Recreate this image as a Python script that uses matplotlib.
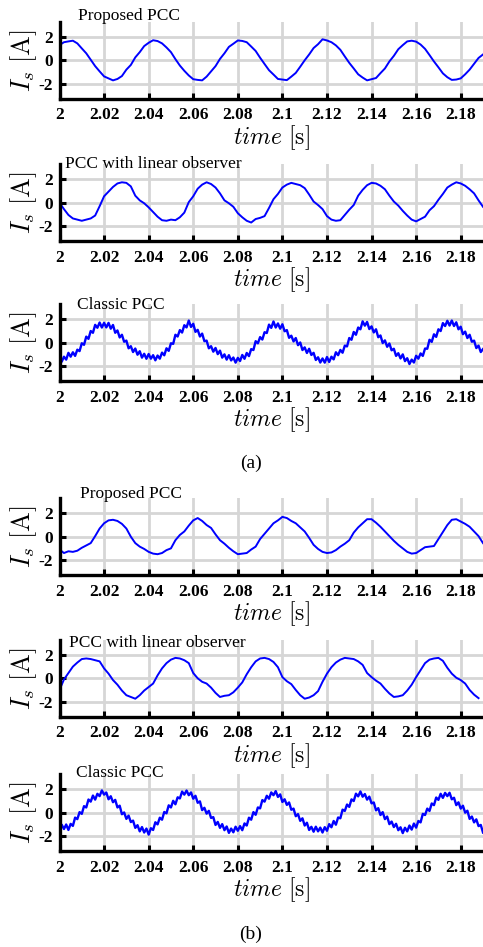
import numpy as np
import matplotlib
matplotlib.use('Agg')
import matplotlib.pyplot as plt

plt.rcParams['font.family'] = ['Liberation Serif', 'DejaVu Serif']
plt.rcParams['mathtext.fontset'] = 'cm'
plt.rcParams['axes.unicode_minus'] = False

# sampled current traces (A); smooth ones every 2 ms, classic ones every 1 ms
a_proposed = [1.30, 1.55, 1.62, 1.68, 1.45, 1.02, 0.60, 0.05, -0.50, -0.95, -1.38, -1.55, -1.72, -1.60, -1.35, -0.80,
              -0.40, 0.25, 0.70, 1.22, 1.50, 1.72, 1.65, 1.45, 1.10, 0.70, 0.10, -0.45, -0.90, -1.30, -1.62, -1.68,
              -1.72, -1.40, -0.95, -0.50, 0.12, 0.60, 1.15, 1.42, 1.70, 1.66, 1.55, 1.18, 0.80, 0.22, -0.32, -0.85,
              -1.22, -1.60, -1.65, -1.70, -1.40, -1.08, -0.55, 0.00, 0.50, 1.05, 1.38, 1.80, 1.70, 1.55, 1.28, 0.90,
              0.33, -0.22, -0.70, -1.20, -1.48, -1.72, -1.62, -1.52, -1.10, -0.70, -0.10, 0.38, 0.95, 1.30, 1.62, 1.68,
              1.60, 1.35, 0.98, 0.45, -0.10, -0.60, -1.12, -1.45, -1.68, -1.65, -1.55, -1.20, -0.80, -0.30, 0.20, 0.50]

a_linear = [0.00, -0.55, -1.05, -1.35, -1.45, -1.55, -1.45, -1.35, -1.10, -0.30, 0.55, 0.95, 1.35, 1.65, 1.75, 1.70,
            1.40, 0.60, 0.20, -0.05, -0.40, -0.80, -1.20, -1.50, -1.55, -1.45, -1.50, -1.25, -0.85, 0.05, 0.55, 1.20,
            1.55, 1.75, 1.60, 1.30, 0.80, 0.20, -0.05, -0.35, -0.90, -1.25, -1.55, -1.70, -1.40, -1.30, -1.15, -0.45,
            0.30, 0.75, 1.30, 1.55, 1.70, 1.60, 1.50, 1.25, 0.70, 0.10, -0.20, -0.55, -1.15, -1.45, -1.55, -1.50,
            -1.05, -0.60, -0.20, 0.60, 1.10, 1.50, 1.70, 1.65, 1.45, 1.15, 0.60, 0.10, -0.25, -0.70, -1.10, -1.45,
            -1.60, -1.40, -1.20, -0.65, -0.30, 0.25, 0.75, 1.30, 1.55, 1.75, 1.65, 1.45, 1.15, 0.80, 0.20, -0.35]

a_classic = [-1.18, -1.63, -1.20, -1.45, -0.87, -1.20, -0.82, -1.13, -0.60, -0.72, -0.05, -0.18, 0.52, 0.33, 1.00, 0.85,
             1.53, 1.28, 1.73, 1.30, 1.70, 1.31, 1.70, 1.20, 1.52, 0.85, 1.05, 0.45, 0.68, 0.08, 0.18, -0.48,
             -0.30, -0.80, -0.50, -1.03, -0.73, -1.28, -0.95, -1.38, -0.97, -1.37, -1.07, -1.51, -1.10, -1.37, -0.85, -1.08,
             -0.48, -0.70, -0.05, -0.10, 0.68, 0.53, 1.08, 0.87, 1.50, 1.31, 1.90, 1.35, 1.62, 0.93, 1.10, 0.53,
             0.78, 0.13, 0.18, -0.48, -0.30, -0.77, -0.45, -0.98, -0.68, -1.28, -1.00, -1.45, -1.07, -1.52, -1.27, -1.71,
             -1.30, -1.57, -1.05, -1.38, -0.88, -1.15, -0.55, -0.63, 0.13, -0.05, 0.48, 0.27, 0.90, 0.83, 1.55, 1.27,
             1.82, 1.30, 1.65, 1.20, 1.58, 0.98, 1.08, 0.42, 0.60, 0.11, 0.40, -0.21, 0.02, -0.63, -0.40, -0.88,
             -0.52, -1.05, -0.87, -1.48, -1.25, -1.70, -1.35, -1.71, -1.23, -1.65, -1.20, -1.43, -0.82, -1.07, -0.62, -0.86,
             -0.25, -0.32, 0.40, 0.25, 0.92, 0.68, 1.30, 1.15, 1.83, 1.46, 1.78, 1.17, 1.40, 0.88, 1.15, 0.47,
             0.62, -0.03, 0.20, -0.35, -0.07, -0.65, -0.52, -1.13, -0.90, -1.35, -1.00, -1.58, -1.33, -1.83, -1.45, -1.70,
             -1.12, -1.37, -0.92, -1.13, -0.50, -0.52, 0.25, 0.07, 0.72, 0.50, 1.15, 1.00, 1.68, 1.43, 1.88, 1.47,
             1.90, 1.43, 1.75, 1.15, 1.37, 0.73, 0.95, 0.40, 0.68, 0.08, 0.18, -0.46, -0.25, -0.80, -0.55]

b_proposed = [-1.10, -1.40, -1.25, -1.30, -1.20, -0.95, -0.75, -0.55, 0.05, 0.70, 1.15, 1.40, 1.45, 1.35, 1.10, 0.70,
              0.00, -0.55, -0.85, -1.05, -1.30, -1.45, -1.50, -1.40, -1.15, -1.00, -0.30, 0.15, 0.45, 0.95, 1.40, 1.60,
              1.35, 1.00, 0.75, 0.20, -0.30, -0.60, -0.95, -1.25, -1.50, -1.45, -1.40, -1.10, -0.85, -0.20, 0.25, 0.70,
              1.15, 1.40, 1.70, 1.60, 1.35, 1.15, 0.80, 0.45, -0.10, -0.70, -1.05, -1.30, -1.40, -1.35, -1.15, -0.85,
              -0.60, -0.30, 0.35, 0.80, 1.15, 1.50, 1.50, 1.20, 0.85, 0.45, 0.05, -0.35, -0.70, -1.00, -1.30, -1.45,
              -1.40, -1.15, -0.90, -0.85, -0.80, -0.20, 0.40, 1.00, 1.45, 1.50, 1.30, 1.10, 0.85, 0.45, 0.05, -0.55]

b_linear = [-1.00, -0.10, 0.45, 1.00, 1.35, 1.65, 1.70, 1.65, 1.55, 1.45, 0.85, 0.40, -0.15, -0.55, -1.05, -1.45,
            -1.60, -1.75, -1.45, -1.05, -0.75, -0.45, 0.25, 0.85, 1.30, 1.60, 1.75, 1.70, 1.55, 1.30, 0.45, 0.00,
            -0.30, -0.45, -0.80, -1.25, -1.60, -1.50, -1.45, -1.20, -0.80, -0.35, 0.35, 0.95, 1.45, 1.70, 1.75, 1.65,
            1.40, 0.95, 0.10, -0.25, -0.50, -1.00, -1.45, -1.75, -1.65, -1.45, -1.10, -0.30, 0.40, 0.95, 1.35, 1.60,
            1.75, 1.70, 1.65, 1.45, 1.15, 0.45, 0.10, -0.20, -0.45, -0.90, -1.30, -1.60, -1.55, -1.45, -1.05, -0.55,
            0.10, 0.70, 1.30, 1.60, 1.70, 1.75, 1.50, 0.90, 0.40, 0.05, -0.15, -0.45, -1.00, -1.40, -1.70]

b_classic = [-1.50, -1.03, -1.40, -1.01, -1.48, -0.96, -1.13, -0.42, -0.55, 0.05, -0.10, 0.56, 0.45, 1.13, 0.95, 1.47,
             1.12, 1.62, 1.42, 1.91, 1.55, 1.73, 1.15, 1.41, 0.90, 1.10, 0.45, 0.60, -0.13, 0.02, -0.53, -0.25,
             -0.80, -0.68, -1.30, -1.07, -1.60, -1.23, -1.70, -1.36, -1.88, -1.33, -1.48, -0.82, -1.00, -0.43, -0.60, 0.06,
             -0.05, 0.63, 0.45, 1.02, 0.72, 1.32, 1.22, 1.81, 1.55, 1.90, 1.50, 1.74, 1.20, 1.45, 0.85, 0.97,
             0.22, 0.42, -0.08, 0.16, -0.45, -0.38, -1.05, -0.79, -1.30, -0.98, -1.50, -1.18, -1.73, -1.36, -1.68, -1.20,
             -1.55, -1.15, -1.50, -0.92, -1.10, -0.43, -0.60, 0.05, -0.18, 0.45, 0.37, 1.08, 0.95, 1.45, 1.20, 1.74,
             1.50, 1.85, 1.35, 1.57, 0.92, 1.15, 0.67, 0.88, 0.25, 0.35, -0.30, -0.12, -0.70, -0.48, -1.10, -0.86,
             -1.48, -1.21, -1.63, -1.20, -1.60, -1.28, -1.70, -1.24, -1.55, -0.98, -1.25, -0.71, -1.03, -0.41, -0.48, 0.26,
             0.15, 0.70, 0.50, 1.14, 1.00, 1.63, 1.40, 1.82, 1.37, 1.60, 1.12, 1.38, 0.80, 0.88, 0.20, 0.39,
             -0.20, 0.05, -0.55, -0.33, -0.98, -0.76, -1.23, -0.95, -1.50, -1.25, -1.75, -1.29, -1.60, -1.10, -1.45, -0.93,
             -1.28, -0.71, -0.83, -0.10, -0.20, 0.35, 0.15, 0.79, 0.65, 1.30, 1.10, 1.62, 1.27, 1.70, 1.42, 1.71,
             1.15, 1.28, 0.65, 0.89, 0.35, 0.60, 0.00, 0.17, -0.53, -0.33, -0.83, -0.57, -1.15, -1.05, -1.70]

titles = ['Proposed PCC', 'PCC with linear observer', 'Classic PCC',
          'Proposed PCC', 'PCC with linear observer', 'Classic PCC']
xticks = [2, 2.02, 2.04, 2.06, 2.08, 2.1, 2.12, 2.14, 2.16, 2.18]
xtick_labels = ['2', '2.02', '2.04', '2.06', '2.08', '2.1', '2.12', '2.14', '2.16', '2.18']
yticks = [-2, 0, 2]

W, H = 483, 947
fig = plt.figure(figsize=(W / 100, H / 100), dpi=100)

series = [(a_proposed, 0.002), (a_linear, 0.002), (a_classic, 0.001),
          (b_proposed, 0.002), (b_linear, 0.002), (b_classic, 0.001)]
zero_px = [60.3, 202.7, 342.7, 536.7, 678.3, 812.7]   # pixel row of I=0 in each panel
title_px = [(78, 16), (65, 164), (77, 305), (80, 494), (69, 643), (76, 773)]
half = 38.5
left = 59.5

for (y, dt), zp, title, (tx, ty) in zip(series, zero_px, titles, title_px):
    ax = fig.add_axes([left / W, 1 - (zp + half) / H, (W - left) / W, 2 * half / H])
    t = 2 + dt * np.arange(len(y))
    ax.plot(t, y, color='#0000ff', lw=1.4 if dt > 0.0015 else 1.7)
    ax.set_xlim(2, 2.19)
    ax.set_ylim(-3.3, 3.3)
    ax.set_xticks(xticks)
    ax.set_xticklabels(xtick_labels)
    ax.set_yticks(yticks)
    ax.grid(True, color='#d6d6d6', lw=2.0)
    ax.set_axisbelow(True)
    for s in ['top', 'right']:
        ax.spines[s].set_visible(False)
    for s in ['left', 'bottom']:
        ax.spines[s].set_linewidth(2.4)
    ax.tick_params(direction='in', length=4, width=2.2, labelsize=12.5)
    ax.tick_params(axis='x', pad=6)
    ax.tick_params(axis='y', pad=5)
    for lab in ax.get_xticklabels() + ax.get_yticklabels():
        lab.set_fontweight('bold')
    ax.set_xlabel(r'$time\ [\mathrm{s}]$', fontsize=17, labelpad=0)
    ax.set_ylabel(r'$I_s\ [\mathrm{A}]$', fontsize=19, labelpad=-1)
    fig.text(tx / W, 1 - ty / H, title, fontsize=12.5, va='center', ha='left')

fig.text(251 / W, 1 - 463 / H, '(a)', fontsize=14, ha='center', va='center')
fig.text(251 / W, 1 - 934 / H, '(b)', fontsize=14, ha='center', va='center')

fig.savefig('out.png', dpi=100)
